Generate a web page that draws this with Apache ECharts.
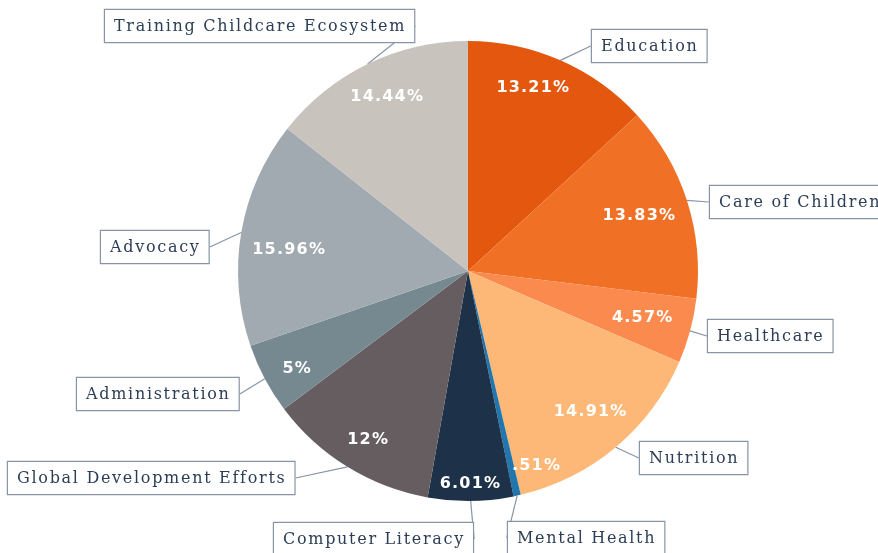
<!DOCTYPE html>
<html>
<head>
<meta charset="utf-8">
<script src="https://cdn.jsdelivr.net/npm/echarts@6/dist/echarts.min.js"></script>
<style>
  html, body { margin:0; padding:0; background:#fff; }
  #main { width:878px; height:553px; }
</style>
</head>
<body>
<div id="main"></div>
<script>
// slice names, clockwise from 12 o'clock
var categories = ['Education','Care of Children','Healthcare','Nutrition','Mental Health',
                  'Computer Literacy','Global Development Efforts','Administration','Advocacy',
                  'Training Childcare Ecosystem'];
var values = [13.21, 13.83, 4.57, 14.91, 0.51, 6.01, 12, 5, 15.96, 14.44];
var palette = ['#e3570f','#f07125','#fb8a4e','#fdb877','#2176ae',
               '#1d3249','#655d60','#778990','#a1aab0','#c8c4bd'];
// callout box top-left corners (x, y) for each name label
var boxPos = [[592,30],[710,186],[708,320],[640,442],[508,522],
              [274,523],[8,462],[77,378],[101,231],[105,10]];
// distance of each percentage label from the pie centre, and a small turn (deg)
var pctRadius = [194,180,181,187,207,213,196,197,180,192];
var pctTurn = [-4,0,0,-1,-7,0,-1,-2,-3,1];

var CX = 468, CY = 271, R = 230;

// the original uses letter-spaced type; canvas can do that through letterSpacing
(function(){
  var proto = CanvasRenderingContext2D.prototype;
  var desc = Object.getOwnPropertyDescriptor(proto, 'font');
  if (!desc || !('letterSpacing' in proto)) return;
  Object.defineProperty(proto, 'font', {
    configurable: true,
    get: function(){ return desc.get.call(this); },
    set: function(v){
      desc.set.call(this, v);
      if (/Serif/.test(v)) this.letterSpacing = '1.7px';
      else if (/bold/.test(v)) this.letterSpacing = '1.2px';
      else this.letterSpacing = '0px';
    }
  });
})();

var pieData = [];
for (var i = 0; i < categories.length; i++) {
  pieData.push({ name: categories[i], value: values[i], itemStyle: { color: palette[i] } });
}

function pctText(v){
  return String(v).replace(/^0\./, '.') + '%';
}

var chart = echarts.init(document.getElementById('main'));
chart.setOption({
  animation: false,
  series: [
    {
      type: 'pie',
      center: [CX, CY],
      radius: [0, R],
      startAngle: 90,
      clockwise: true,
      data: pieData,
      itemStyle: { borderWidth: 0 },
      label: {
        show: true,
        position: 'outside',
        formatter: '{b}',
        overflow: 'none',
        fontFamily: 'DejaVu Serif',
        fontSize: 16,
        color: '#2c3e55',
        backgroundColor: '#fff',
        borderColor: '#8795a6',
        borderWidth: 1.2,
        padding: [7, 8, 6, 9],
        lineHeight: 19
      },
      labelLine: {
        show: true,
        length: 8,
        length2: 0,
        lineStyle: { color: '#8795a6', width: 1.2 }
      },
      labelLayout: function (p) {
        var pos = boxPos[p.dataIndex];
        return { x: pos[0], y: pos[1], align: 'left', verticalAlign: 'top' };
      },
      emphasis: { disabled: true }
    },
    {
      type: 'pie',
      center: [CX, CY],
      radius: [150, R],
      startAngle: 90,
      clockwise: true,
      silent: true,
      avoidLabelOverlap: false,
      z: 5,
      data: pieData.map(function(d){ return { name: d.name, value: d.value }; }),
      itemStyle: { color: 'rgba(0,0,0,0)' },
      label: {
        show: true,
        position: 'inside',
        formatter: function(p){ return pctText(p.value); },
        fontFamily: 'DejaVu Sans',
        fontWeight: 'bold',
        fontSize: 16,
        color: '#fff'
      },
      labelLine: { show: false },
      labelLayout: function (p) {
        var r = p.labelRect;
        var mx = r.x + r.width / 2 - CX, my = r.y + r.height / 2 - CY;
        var a = Math.atan2(mx, -my) + pctTurn[p.dataIndex] * Math.PI / 180;
        var d = pctRadius[p.dataIndex];
        return { x: CX + d * Math.sin(a), y: CY - d * Math.cos(a), align: 'center', verticalAlign: 'middle' };
      },
      emphasis: { disabled: true }
    }
  ]
});
</script>
</body>
</html>
